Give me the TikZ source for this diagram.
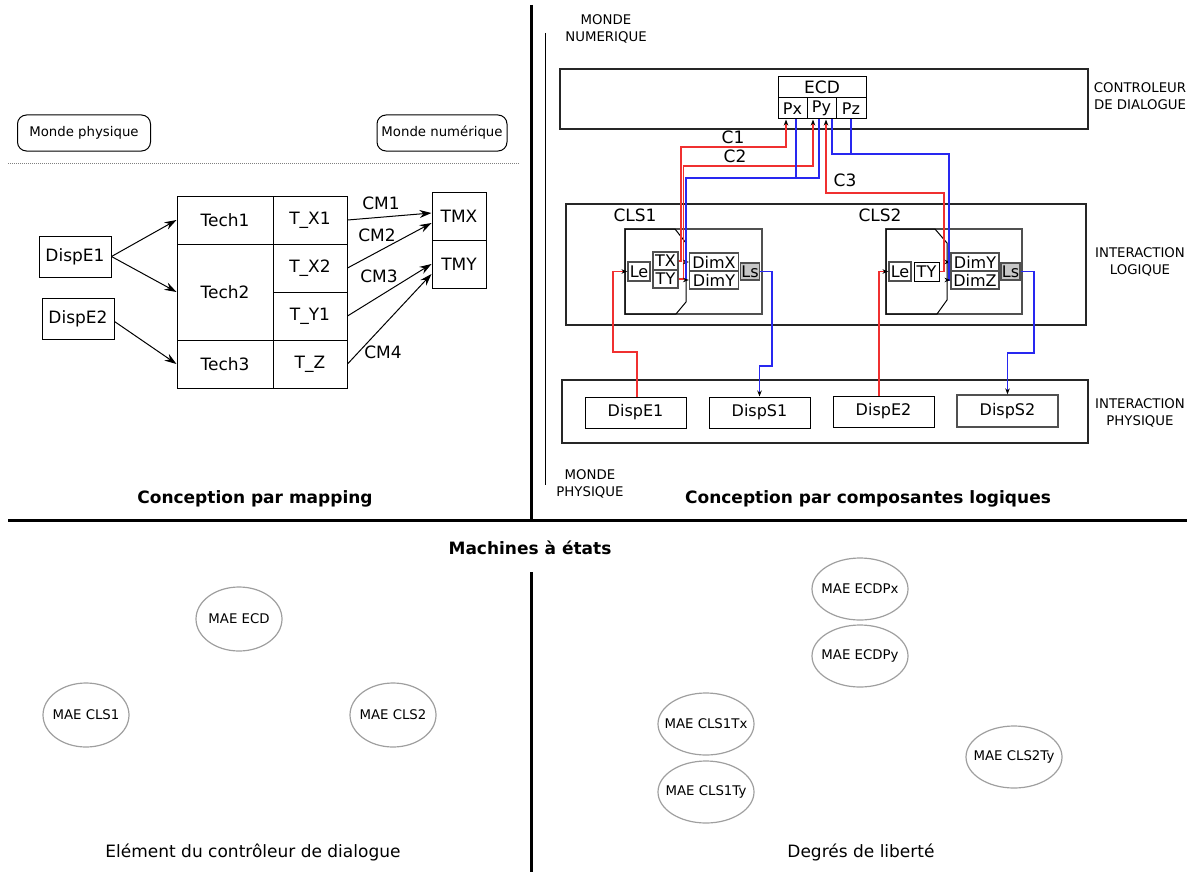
\documentclass[tikz,border=0pt]{standalone}
\usepackage{fontspec}
\setmainfont{DejaVu Sans}
\usetikzlibrary{arrows.meta,calc,shapes.geometric}
\definecolor{rl}{HTML}{F03030}
\definecolor{bl}{HTML}{2828F0}
\definecolor{dg}{HTML}{505050}
\begin{document}
\begin{tikzpicture}[x=1pt,y=-1pt,
  every node/.style={inner sep=0pt},
  fa/.style={font=\fontsize{17}{19}\selectfont},
  fb/.style={font=\fontsize{16}{18}\selectfont},
  fs/.style={font=\fontsize{13.3}{17}\selectfont},
  ft/.style={font=\bfseries\fontsize{17}{19}\selectfont},
  tbox/.style={draw, line width=1pt, fa},
  rbox/.style={draw, line width=1pt, fb},
  sbox/.style={draw=dg, line width=1.2pt, fb},
  frame/.style={draw=black!85, line width=1.3pt},
  pill/.style={draw, line width=1pt, rounded corners=9pt, fs, minimum width=133, minimum height=36},
  arr/.style={-{Stealth[length=12pt,width=8pt,inset=4pt]}, line width=1pt},
  sarr/.style={-{Stealth[length=6pt,width=4.5pt,color=black]}},
  rline/.style={draw=rl, line width=1.2pt},
  bline/.style={draw=bl, line width=1.2pt},
  mae/.style={ellipse, draw=gray!75, line width=1.2pt, fs},
  sep/.style={line width=3pt},
]
\useasboundingbox (0,0) rectangle (1193,872);

% separators
\draw[sep] (531,5) -- (531,520);
\draw[sep] (8,520) -- (1187,520);
\draw[sep] (531,572) -- (531,872);
\draw[line width=1pt] (545,33) -- (545,485);
\draw[gray, line width=1pt, dash pattern=on 1pt off 1pt] (8,163) -- (520,163);

% ---------- left: mapping ----------
\node[pill] (mp) at (84,133) {Monde physique};
\node[pill, minimum width=130] (mn) at (442,133) {Monde numérique};

\node[tbox, minimum width=72, minimum height=41] (de1) at (75,256.5) {DispE1};
\node[tbox, minimum width=72, minimum height=41] (de2) at (78,318.5) {DispE2};

\node[tbox, minimum width=96, minimum height=48] (tech1) at (225,220) {Tech1};
\node[tbox, minimum width=96, minimum height=96] (tech2) at (225,292) {Tech2};
\node[tbox, minimum width=96, minimum height=48] (tech3) at (225,364) {Tech3};
\node[tbox, minimum width=74, minimum height=48] (tx1) at (310,220) {T\_X1};
\node[tbox, minimum width=74, minimum height=48] (tx2) at (310,268) {T\_X2};
\node[tbox, minimum width=74, minimum height=48] (ty1) at (310,316) {T\_Y1};
\node[tbox, minimum width=74, minimum height=48] (tz) at (310,364) {T\_Z};
\node[tbox, minimum width=54, minimum height=48] (tmx) at (459,216) {TMX};
\node[tbox, minimum width=54, minimum height=48] (tmy) at (459,264) {TMY};

\draw[arr] (de1.east) -- (tech1.west);
\draw[arr] (de1.east) -- (tech2.west);
\draw[arr] ([yshift=-3pt]de2.east) -- (tech3.west);
\draw[arr] (tx1.east) -- ([yshift=3pt]tmx.west);
\draw[arr] (tx2.east) -- ([yshift=-7pt]tmx.west);
\draw[arr] (ty1.east) -- (tmy.west);
\draw[arr] (tz.east) -- ([yshift=-10pt]tmy.west);
\node[fa] (cm1) at (381,203) {CM1};
\node[fa] (cm2) at (377,235) {CM2};
\node[fa] (cm3) at (379,276) {CM3};
\node[fa] (cm4) at (383,352) {CM4};

\node[ft] (t1) at (255,499) {Conception par mapping};

% ---------- right: logical components ----------
\node[fs, align=center] (mnum) at (606,29) {MONDE\\NUMERIQUE};
\node[fs, align=center] (mphy) at (590,484) {MONDE\\PHYSIQUE};

\draw[frame] (560,69) rectangle (1088,129);
\draw[frame] (566,204) rectangle (1086,325);
\draw[frame] (562,380) rectangle (1088,443);
\node[fs, align=center] (lcd) at (1140,96) {CONTROLEUR\\DE DIALOGUE};
\node[fs, align=center] (lil) at (1140,262) {INTERACTION\\LOGIQUE};
\node[fs, align=center] (lip) at (1140,413) {INTERACTION\\PHYSIQUE};

% ECD
\node[rbox, fa, minimum width=88, minimum height=21] (ecd) at (822,87.5) {ECD};
\node[rbox, minimum width=29, minimum height=21] (px) at (792.5,108.5) {Px};
\node[rbox, minimum width=29, minimum height=21] (py) at (821.5,108.5) {Py};
\node[rbox, minimum width=30, minimum height=21] (pz) at (851,108.5) {Pz};

% CLS1
\node[fa] (cls1) at (635,215) {CLS1};
\draw[draw=dg, line width=1.2pt] (625,229) rectangle (762,314);
\draw[line width=1pt] (625,229) -- (675,229) -- (686,243) -- (686,302) -- (676,314) -- (625,314) -- cycle;
\node[sbox, minimum width=22, minimum height=19] (le1) at (639,271.5) {Le};
\node[sbox, minimum width=25, minimum height=18] (tx) at (665.5,261) {TX};
\node[sbox, minimum width=25, minimum height=18] (ty) at (665.5,279) {TY};
\node[sbox, minimum width=49, minimum height=18] (dimx) at (714,262) {DimX};
\node[sbox, minimum width=49, minimum height=18] (dimy) at (714,280) {DimY};
\node[sbox, line width=1.6pt, fill=gray!45, minimum width=19, minimum height=17] (ls1) at (750,271.5) {Ls};

% CLS2
\node[fa] (cls2) at (880,215) {CLS2};
\draw[draw=dg, line width=1.2pt] (886,229) rectangle (1022,314);
\draw[line width=1pt] (886,229) -- (935,229) -- (947,243) -- (947,300) -- (937,314) -- (886,314) -- cycle;
\node[sbox, minimum width=22, minimum height=19] (le2) at (900,271.5) {Le};
\node[rbox, minimum width=25, minimum height=19] (ty2) at (926.5,271.5) {TY};
\node[sbox, minimum width=48, minimum height=18] (dimy2) at (975,262) {DimY};
\node[sbox, minimum width=48, minimum height=18] (dimz2) at (975,280) {DimZ};
\node[sbox, line width=1.6pt, fill=gray!45, minimum width=19, minimum height=17] (ls2) at (1010.5,271.5) {Ls};

% physical devices
\node[rbox, minimum width=101, minimum height=31] (pde1) at (635.5,412.5) {DispE1};
\node[rbox, minimum width=101, minimum height=31] (pds1) at (759.5,412.5) {DispS1};
\node[rbox, minimum width=101, minimum height=31] (pde2) at (883.5,411.5) {DispE2};
\node[rbox, draw=dg, line width=1.3pt, minimum width=101, minimum height=32] (pds2) at (1007.5,411) {DispS2};

% connectors to ECD
\draw[rline, sarr] (tx.east) -| (681,147) -| ([xshift=-6.5pt]px.south);
\draw[rline, sarr] (ty.east) -| (683.5,166) -| ([xshift=-8.5pt]py.south);
\draw[bline, sarr] ([xshift=3.5pt]px.south) |- (686,178) |- (dimx.west);
\draw[bline, sarr] ([xshift=-2.5pt]py.south) |- (686,178) |- (dimy.west);
\draw[rline, sarr] (ty2.east) -| (944,193) -| ([xshift=4.5pt]py.south);
\draw[bline, sarr] ([xshift=10.5pt]py.south) |- (949,154) |- (dimy2.west);
\draw[bline, sarr] (pz.south) |- (949,154) |- (dimz2.west);
\node[fa] (c1) at (733,137) {C1};
\node[fa] (c2) at (735,156) {C2};
\node[fa] (c3) at (845,180) {C3};

% connectors to devices
\draw[rline, sarr] ([xshift=1.5pt]pde1.north) |- (613,352) |- (le1.west);
\draw[bline, sarr] (ls1.east) -| (772,366) -| (pds1.north);
\draw[rline, sarr] ([xshift=-4.5pt]pde2.north) |- (le2.west);
\draw[bline, sarr] (ls2.east) -| (1034,353) -| (pds2.north);

\node[ft] (t2) at (868,499) {Conception par composantes logiques};

% ---------- bottom: state machines ----------
\node[ft] (t3) at (530,548) {Machines à états};
\node[mae, minimum width=86, minimum height=64] (m1) at (239,619) {\makebox[0pt]{MAE ECD}};
\node[mae, minimum width=86, minimum height=64] (m2) at (86,715) {\makebox[0pt]{MAE CLS1}};
\node[mae, minimum width=86, minimum height=64] (m3) at (393,715) {\makebox[0pt]{MAE CLS2}};
\node[mae, minimum width=96, minimum height=62] (m4) at (860,589) {\makebox[0pt]{MAE ECDPx}};
\node[mae, minimum width=96, minimum height=62] (m5) at (860,656) {\makebox[0pt]{MAE ECDPy}};
\node[mae, minimum width=96, minimum height=62] (m6) at (706,724) {\makebox[0pt]{MAE CLS1Tx}};
\node[mae, minimum width=96, minimum height=62] (m7) at (706,792) {\makebox[0pt]{MAE CLS1Ty}};
\node[mae, minimum width=96, minimum height=62] (m8) at (1014,757) {\makebox[0pt]{MAE CLS2Ty}};
\node[fa] (cap1) at (253,852) {Elément du contrôleur de dialogue};
\node[fa] (cap2) at (861,852) {Degrés de liberté};
\end{tikzpicture}
\end{document}
